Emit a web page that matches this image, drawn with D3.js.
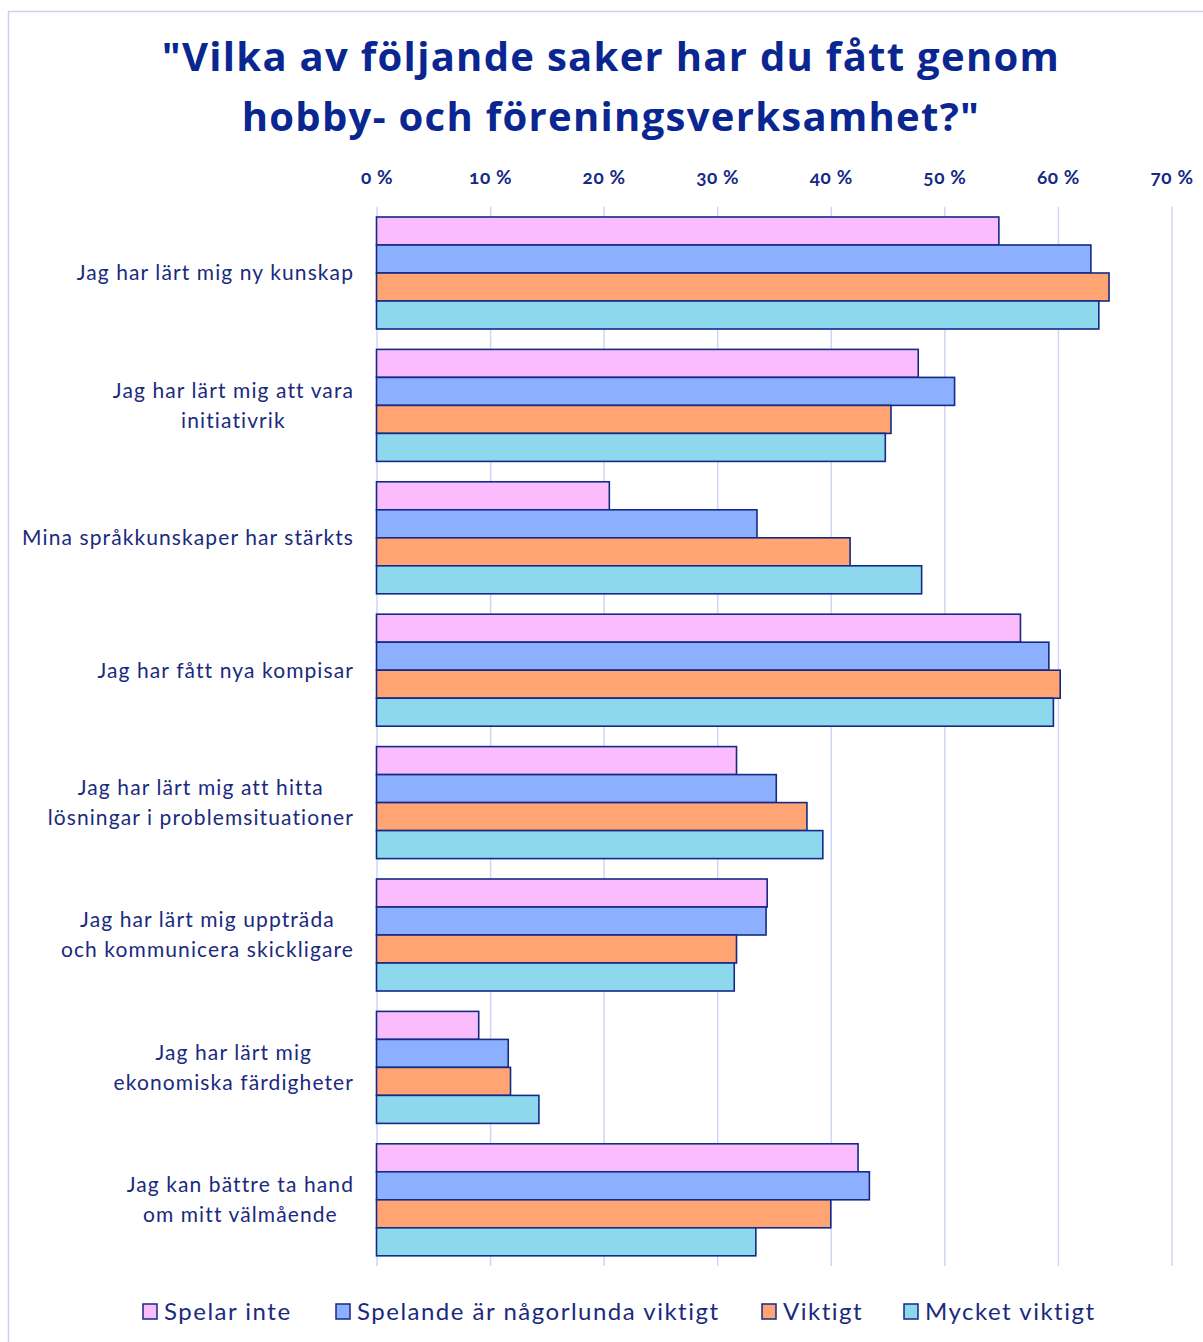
<!DOCTYPE html>
<html>
<head>
<meta charset="utf-8">
<script src="https://cdn.jsdelivr.net/npm/d3@7"></script>
<style>
  body { margin: 0; background: #fff; }
  svg { display: block; font-family: Lato, "Open Sans", sans-serif; }
</style>
</head>
<body>
<div class="chart"></div>
<script>
const categories = [
  ['Jag har lärt mig ny kunskap'],
  ['Jag har lärt mig att vara', 'initiativrik'],
  ['Mina språkkunskaper har stärkts'],
  ['Jag har fått nya kompisar'],
  ['Jag har lärt mig att hitta', 'lösningar i problemsituationer'],
  ['Jag har lärt mig uppträda', 'och kommunicera skickligare'],
  ['Jag har lärt mig', 'ekonomiska färdigheter'],
  ['Jag kan bättre ta hand', 'om mitt välmående']
];
const seriesNames = ['Spelar inte', 'Spelande är någorlunda viktigt', 'Viktigt', 'Mycket viktigt'];
const spelarInte = [54.8, 47.7, 20.5, 56.7, 31.7, 34.4, 9.0, 42.4];
const nagorlunda = [62.9, 50.9, 33.5, 59.2, 35.2, 34.3, 11.6, 43.4];
const viktigt = [64.5, 45.3, 41.7, 60.2, 37.9, 31.7, 11.8, 40.0];
const mycketViktigt = [63.6, 44.8, 48.0, 59.6, 39.3, 31.5, 14.3, 33.4];
const tickValues = [0, 10, 20, 30, 40, 50, 60, 70];
const colors = ['#fabcfc', '#8cb0fe', '#ffa472', '#8ed8ee'];

const seriesValues = [spelarInte, nagorlunda, viktigt, mycketViktigt];
const W = 1203, H = 1342;
const navy = '#142a86';
const textColor = '#1a2a7e';

const svg = d3.select('.chart').append('svg').attr('width', W).attr('height', H);

// border
svg.append('rect')
  .attr('x', 8.5).attr('y', 11.5).attr('width', 1300).attr('height', 1400)
  .attr('fill', 'none').attr('stroke', '#c9d4f4').attr('stroke-width', 1.5);

// title
svg.append('text')
  .attr('x', 611).attr('text-anchor', 'middle')
  .attr('fill', '#0a2690').attr('font-weight', 700).attr('font-size', 40)
  .attr('font-family', '"Open Sans", sans-serif')
  .attr('letter-spacing', 1.3)
  .selectAll('tspan')
  .data(['"Vilka av följande saker har du fått genom', 'hobby- och föreningsverksamhet?"'])
  .join('tspan')
  .attr('x', 611)
  .attr('y', (d, i) => 71 + i * 59.5)
  .text(d => d);

const plotTop = 206.8, plotBottom = 1266;
const x = d3.scaleLinear().domain([0, 70]).range([376.5, 1171.5]);
const y = d3.scaleBand().domain(d3.range(categories.length)).range([plotTop, plotBottom])
  .paddingInner(0.154).paddingOuter(0.077);
const ySub = d3.scaleBand().domain(d3.range(seriesNames.length)).range([0, y.bandwidth()]);

// axis + gridlines
const axis = svg.append('g')
  .attr('transform', `translate(0,${plotTop})`)
  .call(d3.axisTop(x).tickValues(tickValues).tickFormat(d => d + ' %')
    .tickSize(-(plotBottom - plotTop)).tickPadding(23));
axis.select('.domain').remove();
axis.selectAll('.tick line').attr('stroke', '#cdd6f8').attr('stroke-width', 1.5);
axis.selectAll('.tick text')
  .attr('fill', navy).attr('font-size', 19).attr('font-weight', 700)
  .attr('letter-spacing', 0.6)
  .style('font-variant-numeric', 'oldstyle-nums')
  .attr('font-family', 'Lato, sans-serif');

// bars
const groups = svg.append('g').selectAll('g')
  .data(categories)
  .join('g')
  .attr('transform', (d, i) => `translate(0,${y(i)})`);

groups.selectAll('rect')
  .data((d, i) => seriesValues.map((s, j) => ({ s: j, v: s[i] })))
  .join('rect')
  .attr('x', x(0))
  .attr('y', d => ySub(d.s))
  .attr('width', d => x(d.v) - x(0))
  .attr('height', ySub.bandwidth())
  .attr('fill', d => colors[d.s])
  .attr('stroke', navy)
  .attr('stroke-width', 1.6);

// category labels
const labelRight = 354;
const lineH = 30;
categories.forEach((lines, i) => {
  const g = svg.append('text')
    .attr('fill', textColor).attr('font-size', 21)
    .attr('letter-spacing', 1.1)
    .attr('text-anchor', 'middle');
  const cy = y(i) + y.bandwidth() / 2;
  const t = g.selectAll('tspan').data(lines).join('tspan')
    .attr('y', (d, k) => cy + (k - (lines.length - 1) / 2) * lineH)
    .attr('dy', '0.35em')
    .text(d => d);
  let maxW = 0;
  t.each(function () { maxW = Math.max(maxW, this.getComputedTextLength()); });
  t.attr('x', labelRight - maxW / 2);
});

// legend
const legendX = [143, 336, 762, 904];
const legend = svg.append('g').selectAll('g')
  .data(seriesNames)
  .join('g')
  .attr('transform', (d, i) => `translate(${legendX[i]},1311)`);
legend.append('rect')
  .attr('x', 0).attr('y', -7).attr('width', 14).attr('height', 15)
  .attr('fill', (d, i) => colors[i]).attr('stroke', navy).attr('stroke-width', 1.5);
legend.append('text')
  .attr('x', 21).attr('dy', '0.36em')
  .attr('fill', textColor).attr('font-size', 24)
  .attr('letter-spacing', 1.5)
  .text(d => d);
</script>
</body>
</html>
